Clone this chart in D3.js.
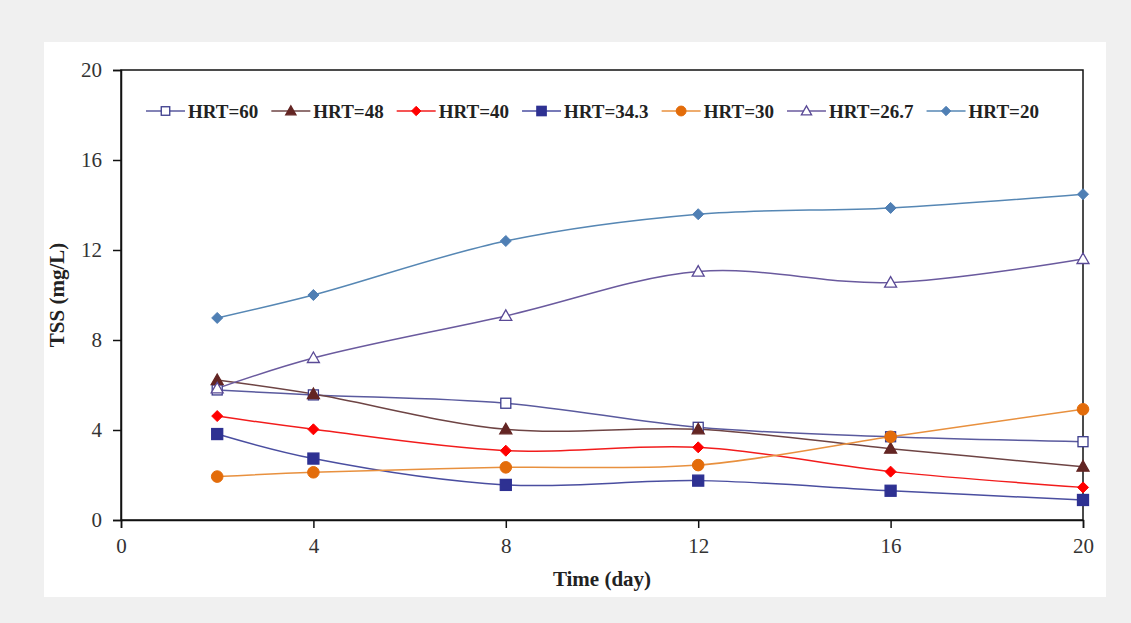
<!DOCTYPE html>
<html lang="en">
<head>
  <meta charset="UTF-8">
  <title>TSS vs time</title>
  <script src="https://d3js.org/d3.v7.min.js"></script>
  <style>
    body { margin: 0; background: #f0f0f0; }
    text { font-family: "Liberation Serif", "Times New Roman", serif; }
  </style>
</head>
<body>
  <div id="chart"></div>
  <script>
    // data
    const days = [2, 4, 8, 12, 16, 20]
    const seriesNames = ['HRT=60', 'HRT=48', 'HRT=40', 'HRT=34.3', 'HRT=30', 'HRT=26.7', 'HRT=20']
    const hrt60 = [5.78, 5.56, 5.19, 4.12, 3.70, 3.48]
    const hrt48 = [6.22, 5.60, 4.03, 4.03, 3.17, 2.37]
    const hrt40 = [4.62, 4.03, 3.08, 3.23, 2.15, 1.45]
    const hrt343 = [3.82, 2.73, 1.56, 1.75, 1.30, 0.89]
    const hrt30 = [1.93, 2.12, 2.34, 2.44, 3.70, 4.92]
    const hrt267 = [5.85, 7.20, 9.07, 11.04, 10.55, 11.60]
    const hrt20 = [8.98, 10.0, 12.4, 13.59, 13.87, 14.48]
    const xTicks = [0, 4, 8, 12, 16, 20]
    const yTicks = [0, 4, 8, 12, 16, 20]

    const series = [
      { name: seriesNames[0], values: hrt60, line: '#5a5a9e', mark: 'square', fill: '#fff', stroke: '#3b3b8c' },
      { name: seriesNames[1], values: hrt48, line: '#6e4444', mark: 'triangle', fill: '#632523', stroke: '#632523' },
      { name: seriesNames[2], values: hrt40, line: '#f21c1c', mark: 'diamond', fill: '#ff0000', stroke: '#ff0000' },
      { name: seriesNames[3], values: hrt343, line: '#4a4ea0', mark: 'square', fill: '#2e3192', stroke: '#2e3192' },
      { name: seriesNames[4], values: hrt30, line: '#e8903e', mark: 'circle', fill: '#e36c0a', stroke: '#e36c0a' },
      { name: seriesNames[5], values: hrt267, line: '#6a5a9e', mark: 'triangle', fill: '#fff', stroke: '#5a4a96' },
      { name: seriesNames[6], values: hrt20, line: '#5687b4', mark: 'diamond', fill: '#4f7fb4', stroke: '#4f7fb4' }
    ]

    const W = 1131, H = 623
    const svg = d3.select('#chart').append('svg')
      .attr('width', W)
      .attr('height', H)

    svg.append('rect')
      .attr('x', 44).attr('y', 42)
      .attr('width', 1062).attr('height', 555)
      .attr('fill', '#fff')

    const plotL = 121, plotR = 1083, plotT = 70, plotB = 520

    const x = d3.scaleLinear().domain([0, 20]).range([plotL, plotR])
    const y = d3.scaleLinear().domain([0, 20]).range([plotB, plotT])

    // frame
    svg.append('rect')
      .attr('x', plotL).attr('y', plotT)
      .attr('width', plotR - plotL).attr('height', plotB - plotT)
      .attr('fill', 'none').attr('stroke', '#111').attr('stroke-width', 1.5)

    const xAxis = svg.append('g')
      .attr('transform', `translate(0,${plotB})`)
      .call(d3.axisBottom(x).tickValues(xTicks).tickSize(8).tickPadding(10))
    const yAxis = svg.append('g')
      .attr('transform', `translate(${plotL},0)`)
      .call(d3.axisLeft(y).tickValues(yTicks).tickSize(8).tickPadding(11))

    ;[xAxis, yAxis].forEach(a => {
      a.select('.domain').attr('stroke', '#111').attr('stroke-width', 1.5)
      a.selectAll('.tick line').attr('stroke', '#111').attr('stroke-width', 1.5)
      a.selectAll('.tick text')
        .attr('fill', '#333')
        .style('font-family', '"Liberation Serif", serif')
        .style('font-size', '21px')
    })

    svg.append('text')
      .attr('x', (plotL + plotR) / 2)
      .attr('y', 586)
      .attr('text-anchor', 'middle')
      .attr('font-weight', 'bold')
      .attr('font-size', 21)
      .attr('fill', '#222')
      .text('Time (day)')

    svg.append('text')
      .attr('transform', `translate(64,${(plotT + plotB) / 2}) rotate(-90)`)
      .attr('text-anchor', 'middle')
      .attr('font-weight', 'bold')
      .attr('font-size', 21)
      .attr('fill', '#222')
      .text('TSS (mg/L)')

    const line = d3.line()
      .x((d, i) => x(days[i]))
      .y(d => y(d))
      .curve(d3.curveCatmullRom.alpha(0.5))

    function drawMark (g, s, cx, cy, k) {
      if (s.mark === 'square') {
        const r = (s.fill === '#fff' ? 5 : 5.5) * k
        g.append('rect')
          .attr('x', cx - r).attr('y', cy - r)
          .attr('width', 2 * r).attr('height', 2 * r)
          .attr('fill', s.fill).attr('stroke', s.stroke).attr('stroke-width', 1.3)
      } else if (s.mark === 'circle') {
        g.append('circle')
          .attr('cx', cx).attr('cy', cy).attr('r', 5.8 * k)
          .attr('fill', s.fill).attr('stroke', s.stroke)
      } else if (s.mark === 'triangle') {
        const r = 6 * k
        g.append('path')
          .attr('d', `M${cx},${cy - r}L${cx + r},${cy + r * 0.75}L${cx - r},${cy + r * 0.75}Z`)
          .attr('fill', s.fill).attr('stroke', s.stroke).attr('stroke-width', 1.3)
      } else {
        const r = 5.5 * k
        g.append('path')
          .attr('d', `M${cx},${cy - r}L${cx + r},${cy}L${cx},${cy + r}L${cx - r},${cy}Z`)
          .attr('fill', s.fill).attr('stroke', s.stroke)
      }
    }

    const plot = svg.append('g')
    series.forEach(s => {
      plot.append('path')
        .datum(s.values)
        .attr('d', line)
        .attr('fill', 'none')
        .attr('stroke', s.line)
        .attr('stroke-width', 1.5)
    })
    series.forEach(s => {
      const g = plot.append('g')
      s.values.forEach((v, i) => drawMark(g, s, x(days[i]), y(v), 1))
    })

    // legend
    const legend = svg.append('g').attr('transform', 'translate(146,111)')
    let lx = 0
    series.forEach(s => {
      const g = legend.append('g').attr('transform', `translate(${lx},0)`)
      g.append('line')
        .attr('x1', 0).attr('x2', 39)
        .attr('y1', 0).attr('y2', 0)
        .attr('stroke', s.line).attr('stroke-width', 1.5)
      drawMark(g, s, 19.5, 0, 0.85)
      const t = g.append('text')
        .attr('x', 42)
        .attr('dy', '0.35em')
        .attr('font-weight', 'bold')
        .attr('font-size', 19)
        .attr('fill', '#222')
        .text(s.name)
      lx += 42 + t.node().getComputedTextLength() + 13
    })
  </script>
</body>
</html>
